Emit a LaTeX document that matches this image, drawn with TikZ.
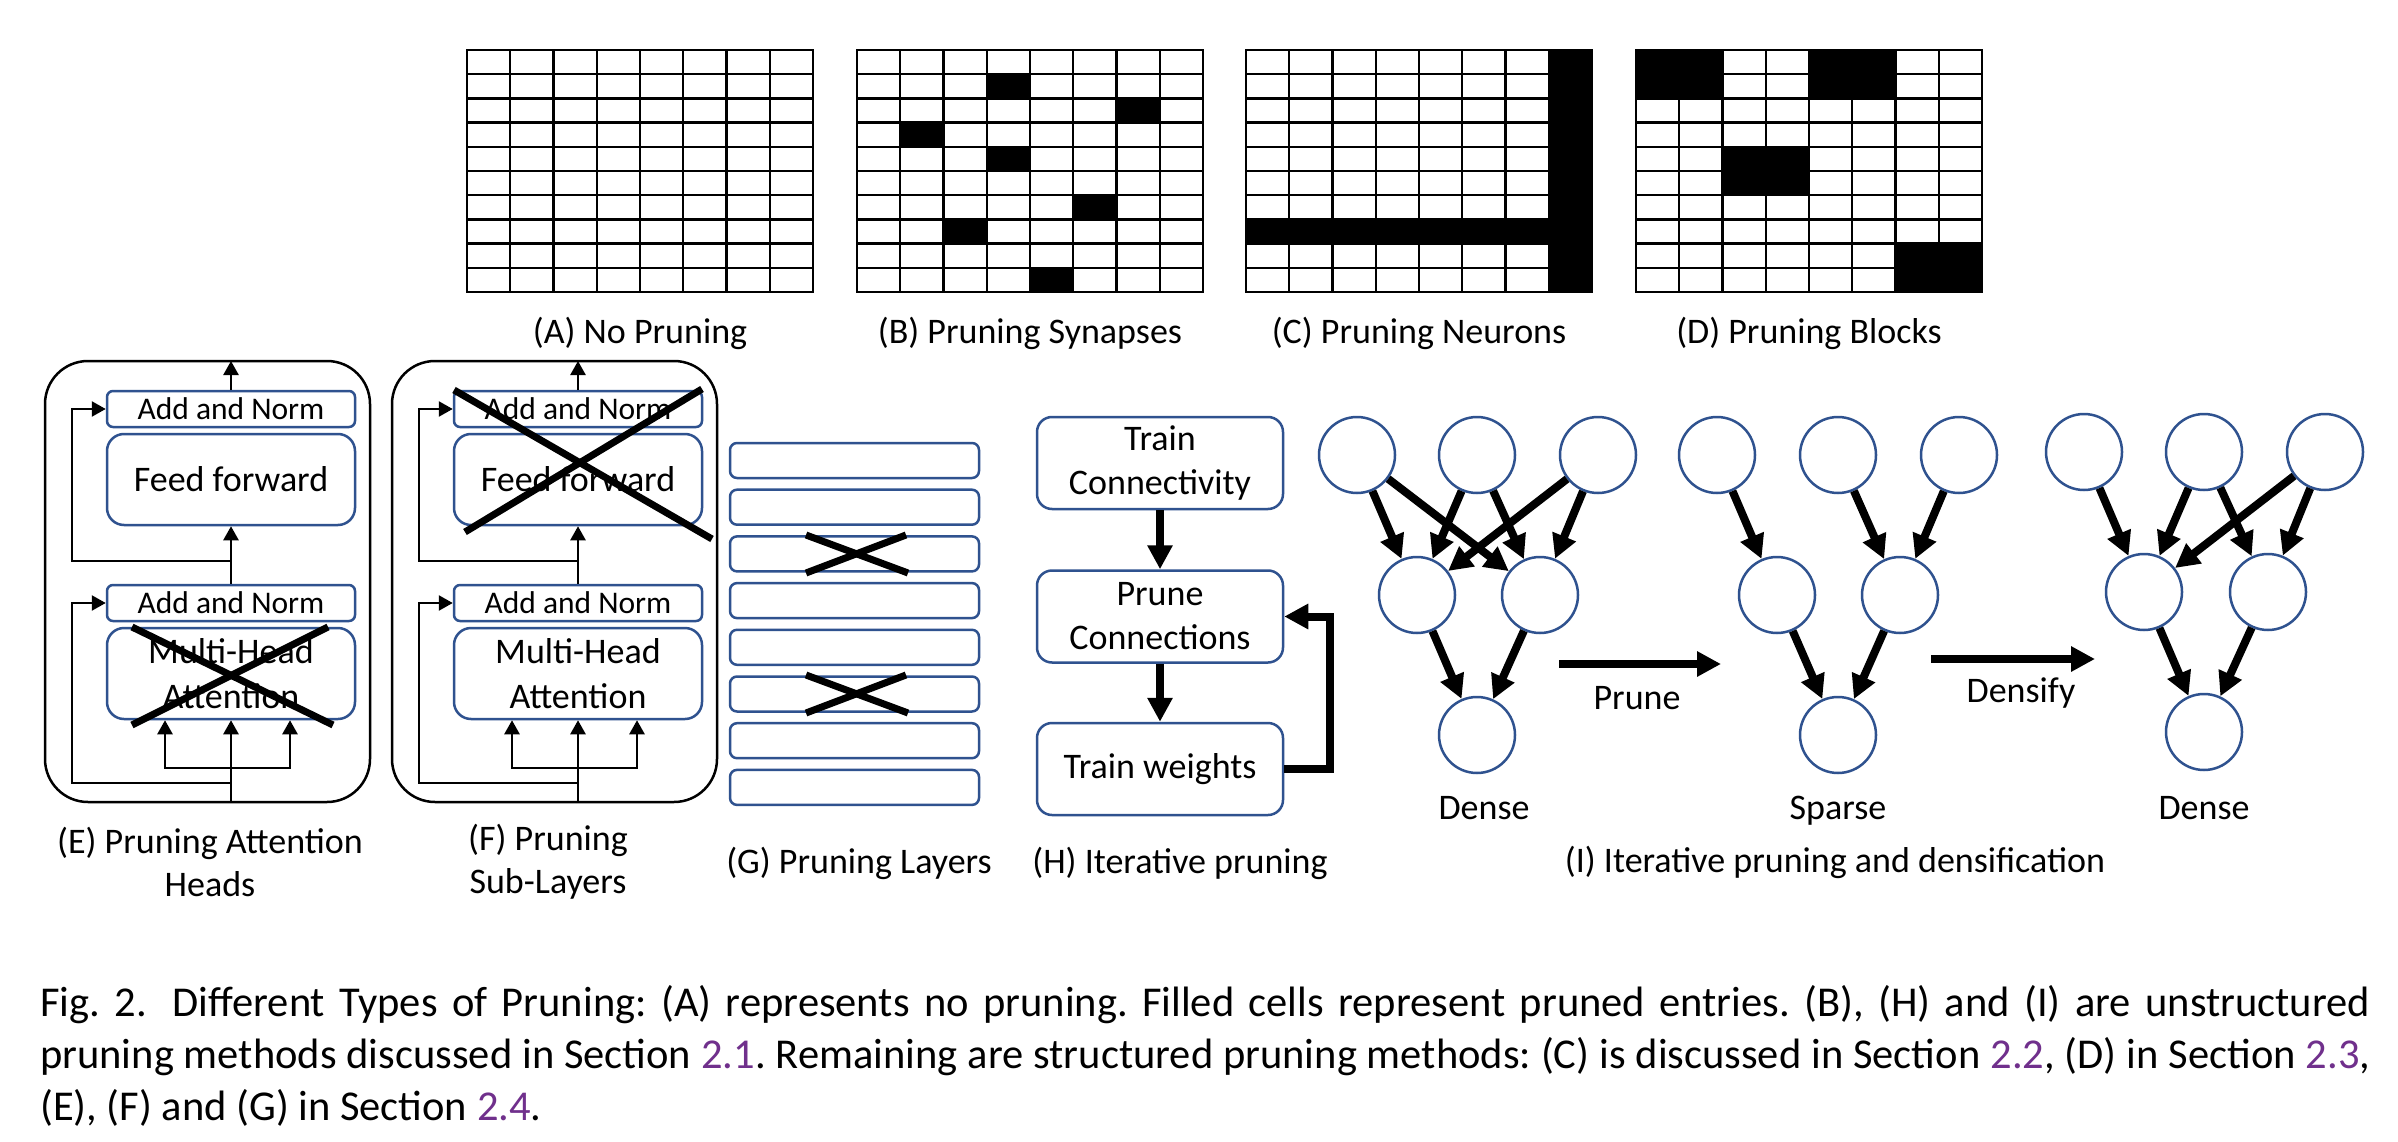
\documentclass[tikz,border=0pt]{standalone}
\usepackage{fontspec}
\setmainfont{Carlito}
\usetikzlibrary{arrows.meta}
\definecolor{boxblue}{RGB}{47,82,143}
\definecolor{refpurple}{RGB}{112,48,140}
\newcommand\fz[2]{\fontsize{#1}{#2}\selectfont}
\frenchspacing
\begin{document}
\begin{tikzpicture}[x=1pt,y=-1pt,
  gl/.style={line width=2.4pt, line cap=rect},
  box/.style={draw=boxblue, line width=2.5pt, rounded corners=6pt, inner sep=0pt, minimum width=248pt, minimum height=36pt, font=\fz{31.5}{38}},
  bigbox/.style={draw=boxblue, line width=2.5pt, rounded corners=17pt, inner sep=0pt, minimum width=248pt, minimum height=91pt, align=center, font=\fz{36}{45}},
  outerbox/.style={draw=black, line width=2.5pt, rounded corners=43pt, inner sep=0pt, minimum width=325pt, minimum height=441pt},
  lab/.style={inner sep=0pt, align=center, font=\fz{36}{43}},
  tarr/.style={line width=2.5pt, -{Triangle[length=14pt,width=15pt]}},
  tline/.style={line width=2.5pt, line cap=rect},
  xl/.style={line width=7pt},
  layer/.style={draw=boxblue, line width=2.5pt, rounded corners=7pt, minimum width=249pt, minimum height=35pt, inner sep=0pt},
  fbox/.style={draw=boxblue, line width=2.5pt, rounded corners=15pt, minimum width=246pt, minimum height=92pt, inner sep=0pt, align=center, font=\fz{36}{44}},
  karr/.style={line width=8pt, -{Triangle[length=24pt,width=24pt]}},
  neuron/.style={circle, draw=boxblue, line width=2.5pt, minimum size=76pt, inner sep=0pt},
  captext/.style={inner sep=0pt, anchor=base west, font=\fz{42.5}{52}},
]
\useasboundingbox (0,0) rectangle (2398,1142);
\fill[white] (0,0) rectangle (2398,1142);

% ---------- grids A-D ----------
\def\cw{43.25}
\def\ch{24.2}
% B synapses
\foreach \c/\r in {3/1,6/2,1/3,3/4,5/6,2/7,4/9}
  \fill ({857+\c*\cw},{50+\r*\ch}) rectangle +(\cw,\ch);
% C neurons
\fill ({1246+7*\cw},50) rectangle ({1246+8*\cw},{50+10*\ch});
\fill (1246,{50+7*\ch}) rectangle ({1246+8*\cw},{50+8*\ch});
% D blocks
\foreach \c/\r in {0/0,4/0,2/4,6/8}
  \fill ({1636+\c*\cw},{50+\r*\ch}) rectangle +({2*\cw},{2*\ch});
% grid lines
\foreach \gx in {467,857,1246,1636}{
  \foreach \i in {0,...,8} \draw[gl] ({\gx+\i*\cw},50) -- ({\gx+\i*\cw},{50+10*\ch});
  \foreach \j in {0,...,10} \draw[gl] (\gx,{50+\j*\ch}) -- ({\gx+8*\cw},{50+\j*\ch});
}
\node[lab] (labA) at (640,333) {(A) No Pruning};
\node[lab] (labB) at (1030,333) {(B) Pruning Synapses};
\node[lab] (labC) at (1419,333) {(C) Pruning Neurons};
\node[lab] (labD) at (1809,333) {(D) Pruning Blocks};

% ---------- E and F ----------
\foreach \p/\dx in {E/0,F/347}{
  \begin{scope}[xshift=\dx]
    \node[outerbox] (\p out) at (207.5,581.5) {};
    \node[box] (\p AN1) at (231,409) {Add and Norm};
    \node[bigbox] (\p FF) at (231,479.5) {Feed forward};
    \node[box] (\p AN2) at (231,603) {Add and Norm};
    \node[bigbox] (\p MHA) at (231,673.5) {Multi-Head\\Attention};
    \coordinate (\p top) at (231,361);
    \coordinate (\p j1) at (231,561);
    \coordinate (\p j2) at (231,783);
    \coordinate (\p bar) at (231,768);
    \coordinate (\p barl) at (165,768);
    \coordinate (\p barr) at (290,768);
    \coordinate (\p res) at (72,0);
    \coordinate (\p bot) at (231,802);
  \end{scope}
  \draw[tarr] (\p AN1.north) -- (\p top);
  \draw[tarr] (\p AN2.north) -- (\p FF.south);
  \draw[tarr] (\p j1) -- (\p j1 -| \p res) |- (\p AN1.west);
  \draw[tline] (\p bot) -- (\p bar);
  \draw[tline] (\p barl) -- (\p barr);
  \draw[tarr] (\p barl) -- (\p barl |- \p MHA.south);
  \draw[tarr] (\p bar) -- (\p MHA.south);
  \draw[tarr] (\p barr) -- (\p barr |- \p MHA.south);
  \draw[tarr] (\p j2) -- (\p j2 -| \p res) |- (\p AN2.west);
}
\draw[xl] (132,627) -- (333,725);
\draw[xl] (132,725) -- (328,627);
\draw[xl] (454,390) -- (712,539);
\draw[xl] (465,532) -- (702,389);
\node[lab] (labE) at (210,862) {(E) Pruning Attention\\Heads};
\node[lab] (labF) at (548,862) {(F) Pruning\\Sub-Layers};

% ---------- G ----------
\foreach \k in {0,...,7} \node[layer] (G\k) at (854.5,{460.5+\k*46.7}) {};
\draw[xl] (806,535) -- (908,573);
\draw[xl] (806,573) -- (906,535);
\draw[xl] (806,675) -- (908,713);
\draw[xl] (806,713) -- (906,675);
\node[lab] (labG) at (859,863) {(G) Pruning Layers};

% ---------- H ----------
\node[fbox] (HTC) at (1160,463) {Train\\Connectivity};
\node[fbox] (HPC) at (1160,616.5) {Prune\\Connections};
\node[fbox] (HTW) at (1160,769) {Train weights};
\draw[karr] (HTC.south) -- (HPC.north);
\draw[karr] (HPC.south) -- (HTW.north);
\coordinate (Hfb) at (1330,0);
\draw[karr] (HTW.east) -- (HTW.east -| Hfb) |- (HPC.east);
\node[lab] (labH) at (1180,863) {(H) Iterative pruning};

% ---------- I ----------
\node[neuron] (d1a) at (1357,455) {};
\node[neuron] (d1b) at (1477,455) {};
\node[neuron] (d1c) at (1598,455) {};
\node[neuron] (d1d) at (1417,595) {};
\node[neuron] (d1e) at (1540,595) {};
\node[neuron] (d1f) at (1477,735) {};
\foreach \s/\t in {a/d,a/e,b/d,b/e,c/d,c/e,d/f,e/f} \draw[karr] (d1\s) -- (d1\t);
\node[lab] (dense1) at (1484,808) {Dense};

\node[neuron] (s1a) at (1717,455) {};
\node[neuron] (s1b) at (1838,455) {};
\node[neuron] (s1c) at (1959,455) {};
\node[neuron] (s1d) at (1777,595) {};
\node[neuron] (s1e) at (1900,595) {};
\node[neuron] (s1f) at (1838,735) {};
\foreach \s/\t in {a/d,b/e,c/e,d/f,e/f} \draw[karr] (s1\s) -- (s1\t);
\node[lab] (sparse) at (1838,811) {Sparse};

\node[neuron] (d2a) at (2084,452) {};
\node[neuron] (d2b) at (2204,452) {};
\node[neuron] (d2c) at (2325,452) {};
\node[neuron] (d2d) at (2144,592) {};
\node[neuron] (d2e) at (2268,592) {};
\node[neuron] (d2f) at (2204,732) {};
\foreach \s/\t in {a/d,b/d,b/e,c/d,c/e,d/f,e/f} \draw[karr] (d2\s) -- (d2\t);
\node[lab] (dense2) at (2204,808) {Dense};

\coordinate (pr1) at (1559,664);
\coordinate (pr2) at (1721,664);
\draw[karr] (pr1) -- (pr2);
\node[lab] (prl) at (1637,698) {Prune};
\coordinate (dn1) at (1931,659);
\coordinate (dn2) at (2095,659);
\draw[karr] (dn1) -- (dn2);
\node[lab] (dnl) at (2021,693) {Densify};
\node[lab] (labI) at (1835,862) {(I) Iterative pruning and densification};

% ---------- caption ----------
\node[captext] (c1) at (40,1016) {\makebox[2330pt][s]{Fig.\ 2.\hspace{26pt}Different Types of Pruning: (A) represents no pruning. Filled cells represent pruned entries. (B), (H) and (I) are unstructured}};
\node[captext] (c2) at (40,1068) {\makebox[2330pt][s]{pruning methods discussed in Section \textcolor{refpurple}{2.1}. Remaining are structured pruning methods: (C) is discussed in Section \textcolor{refpurple}{2.2}, (D) in Section \textcolor{refpurple}{2.3},}};
\node[captext] (c3) at (40,1120) {(E), (F) and (G) in Section \textcolor{refpurple}{2.4}.};
\end{tikzpicture}
\end{document}
